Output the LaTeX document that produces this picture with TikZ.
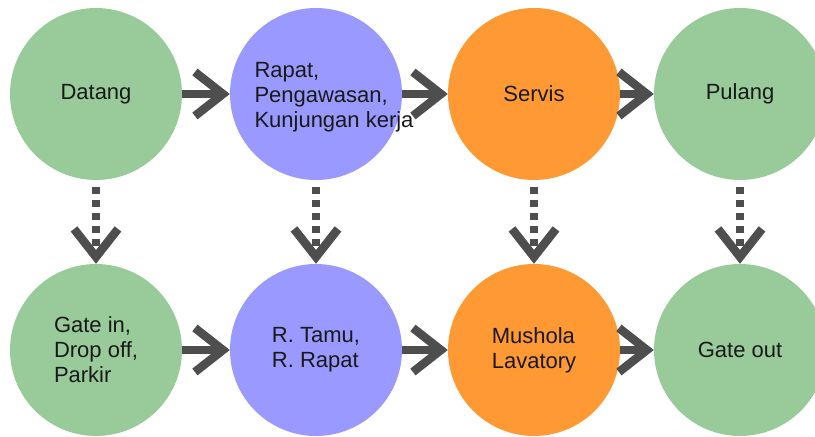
\documentclass[tikz,border=0pt]{standalone}
\usepackage{fontspec}
\setmainfont{Liberation Sans}
\usetikzlibrary{arrows.meta}

\definecolor{stagegreen}{RGB}{152,203,153}
\definecolor{stageblue}{RGB}{153,153,255}
\definecolor{stageorange}{RGB}{255,153,51}
\definecolor{arrowgray}{RGB}{78,78,78}
\definecolor{inkdark}{RGB}{25,25,25}

\tikzset{
  stage/.style={circle, draw=none, inner sep=0pt, minimum size=172bp},
  txt/.style={text=inkdark, align=left, inner sep=0pt,
              font=\fontsize{22bp}{25bp}\selectfont},
  flow/.style={draw=arrowgray, line width=8.5bp,
               -{Straight Barb[length=28bp, width=44bp]}},
  drop/.style={draw=arrowgray, line width=8.5bp, dash pattern=on 7bp off 6bp,
               shorten <=7bp,
               -{Straight Barb[length=28bp, width=44bp]}},
}

\begin{document}
\begin{tikzpicture}[x=1bp, y=-1bp]
  \useasboundingbox (0,0) rectangle (815,437);
  \clip (0,0) rectangle (815,437);

  % upper row: the visit
  \node[stage, fill=stagegreen,  label={[txt]center:Datang}] (datang) at (96,94) {};
  \node[stage, fill=stageblue,   label={[txt, xshift=18bp, yshift=-3bp]center:{Rapat,\\Pengawasan,\\Kunjungan kerja}}] (rapat) at (316,94) {};
  \node[stage, fill=stageorange, label={[txt]center:Servis}] (servis) at (534,94) {};
  \node[stage, fill=stagegreen,  label={[txt]center:Pulang}] (pulang) at (740,94) {};

  % lower row: the places
  \node[stage, fill=stagegreen,  label={[txt]center:{Gate in,\\Drop off,\\Parkir}}] (gatein) at (96,350) {};
  \node[stage, fill=stageblue,   label={[txt]center:{R. Tamu,\\R. Rapat}}] (ruang) at (316,350) {};
  \node[stage, fill=stageorange, label={[txt]center:{Mushola\\Lavatory}}] (mushola) at (534,350) {};
  \node[stage, fill=stagegreen,  label={[txt]center:Gate out}] (gateout) at (740,350) {};

  % solid flow along each row
  \draw[flow] (datang.east) -- (rapat.west);
  \draw[flow] (rapat.east) -- (servis.west);
  \draw[flow] (servis.east) -- (pulang.west);
  \draw[flow] (gatein.east) -- (ruang.west);
  \draw[flow] (ruang.east) -- (mushola.west);
  \draw[flow] (mushola.east) -- (gateout.west);

  % dotted links from each stage to its place
  \draw[drop] (datang.south) -- (gatein.north);
  \draw[drop] (rapat.south) -- (ruang.north);
  \draw[drop] (servis.south) -- (mushola.north);
  \draw[drop] (pulang.south) -- (gateout.north);
\end{tikzpicture}
\end{document}
